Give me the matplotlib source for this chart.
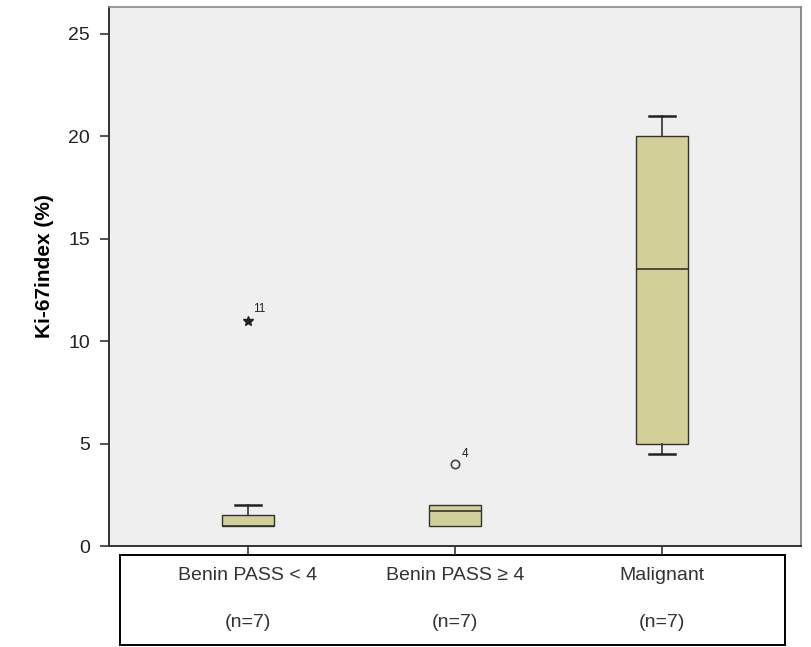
import matplotlib
matplotlib.use("Agg")
import matplotlib.pyplot as plt
from matplotlib.patches import Rectangle
from matplotlib.transforms import blended_transform_factory

# data
groups = ["Benin PASS < 4", "Benin PASS \u2265 4", "Malignant"]
counts = ["(n=7)", "(n=7)", "(n=7)"]
q1 = [1.0, 1.0, 5.0]
med = [1.0, 1.7, 13.5]
q3 = [1.5, 2.0, 20.0]
whislo = [1.0, 1.0, 4.5]
whishi = [2.0, 2.0, 21.0]
outlier_vals = [11.0, 4.0]
outlier_group = [1, 2]
outlier_ids = ["11", "4"]
outlier_marks = ["*", "o"]

plt.rcParams["font.family"] = ["Liberation Sans", "DejaVu Sans"]

box_fill = "#d3cf98"
edge = "#333333"
txt = "#222222"

fig = plt.figure(figsize=(8.12, 6.47), dpi=100)
ax = fig.add_axes([0.1342, 0.1561, 0.8523, 0.8331])
ax.set_facecolor("#efefef")

stats = []
for i in range(len(groups)):
    stats.append({"med": med[i], "q1": q1[i], "q3": q3[i],
                  "whislo": whislo[i], "whishi": whishi[i], "fliers": []})

parts = ax.bxp(stats, positions=[1, 2, 3], widths=0.25, capwidths=0.125,
               patch_artist=True, showfliers=False,
               boxprops=dict(facecolor=box_fill, edgecolor=edge, linewidth=1.0),
               medianprops=dict(color=edge, linewidth=1.2),
               whiskerprops=dict(color=edge, linewidth=1.2),
               capprops=dict(color="#222222", linewidth=1.8))

# no whisker / cap where the whisker has zero length
for i in range(len(groups)):
    if whislo[i] == q1[i]:
        parts["caps"][2 * i].set_visible(False)
        parts["whiskers"][2 * i].set_visible(False)
    if whishi[i] == q3[i]:
        parts["caps"][2 * i + 1].set_visible(False)
        parts["whiskers"][2 * i + 1].set_visible(False)

for v, g, lab, m in zip(outlier_vals, outlier_group, outlier_ids, outlier_marks):
    if m == "*":
        ax.plot(g, v, marker="*", color="#222222", markersize=7, linestyle="none")
        off = (3.5, 6)
    else:
        ax.plot(g, v, marker="o", markerfacecolor="none", markeredgecolor="#444444",
                markeredgewidth=1.2, markersize=6, linestyle="none")
        off = (5, 5)
    ax.annotate(lab, (g, v), xytext=off, textcoords="offset points",
                fontsize=8.5, color=txt)

ax.set_xlim(0.33, 3.67)
ax.set_ylim(0, 26.3)
ax.set_yticks([0, 5, 10, 15, 20, 25])
ax.set_xticks([1, 2, 3])
ax.set_xticklabels([])
ax.tick_params(axis="y", length=6.5, width=1.2, color=edge, labelsize=14, labelcolor=txt, pad=7)
ax.tick_params(axis="x", length=6.5, width=1.2, color=edge)
ax.set_ylabel("Ki-67index (%)", fontsize=15, fontweight="bold")
ax.yaxis.set_label_coords(-0.079, 0.52)

ax.spines["left"].set_color(edge)
ax.spines["bottom"].set_color(edge)
ax.spines["left"].set_linewidth(1.4)
ax.spines["bottom"].set_linewidth(1.4)
ax.spines["top"].set_color("#888888")
ax.spines["right"].set_color("#777777")
ax.spines["top"].set_linewidth(1.2)
ax.spines["right"].set_linewidth(1.2)

# label box under the plot
box = Rectangle((0.1478, 0.0031), 0.819, 0.1391, transform=fig.transFigure,
                facecolor="white", edgecolor="black", linewidth=1.4, zorder=-1)
fig.patches.append(box)
trans = blended_transform_factory(ax.transData, fig.transFigure)
for i, (g, n) in enumerate(zip(groups, counts)):
    ax.text(i + 1, 0.110, g, transform=trans, ha="center", va="center",
            fontsize=14, color="#333333", clip_on=False)
    ax.text(i + 1, 0.038, n, transform=trans, ha="center", va="center",
            fontsize=14, color="#333333", clip_on=False)

fig.savefig("out.png", dpi=100)
